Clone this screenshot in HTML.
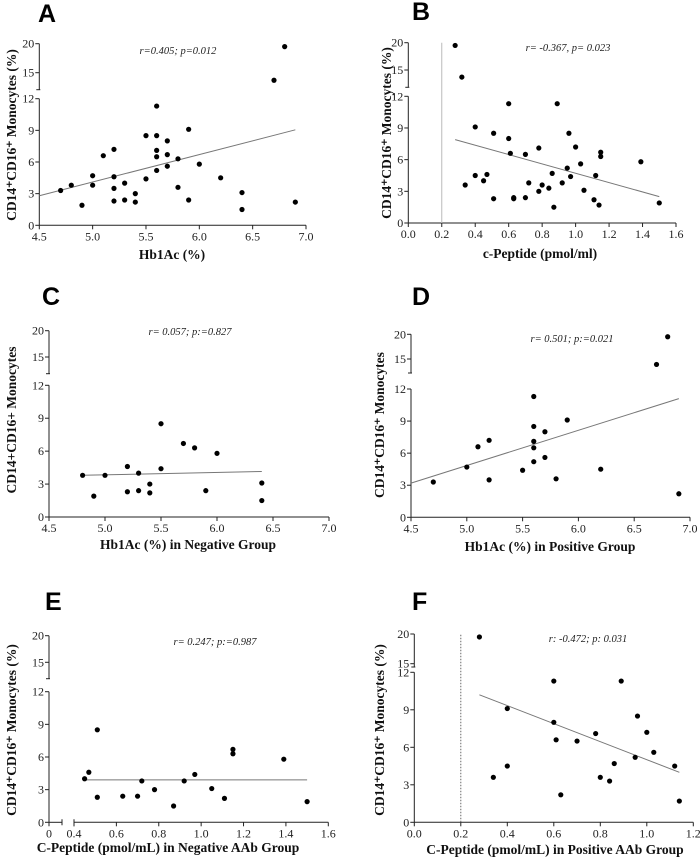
<!DOCTYPE html>
<html><head><meta charset="utf-8">
<style>
html,body{margin:0;padding:0;background:#fff;}
svg{display:block;}
.tk{font-family:"Liberation Serif",serif;font-size:12px;fill:#222;}
.ax{font-family:"Liberation Serif",serif;font-size:13.5px;font-weight:bold;fill:#111;}
.st{font-family:"Liberation Serif",serif;font-size:10.5px;font-style:italic;fill:#222;}
.lt{font-family:"Liberation Sans",sans-serif;font-size:25px;font-weight:bold;fill:#000;}
</style></head>
<body>
<svg id="fig" width="700" height="857" viewBox="0 0 700 857" xmlns="http://www.w3.org/2000/svg"></svg>
<script>
// ---- data ----
const aX=[4.7,4.8,4.9,5.0,5.0,5.1,5.2,5.2,5.2,5.2,5.3,5.3,5.4,5.4,5.5,5.5,5.6,5.6,5.6,5.6,5.6,5.7,5.7,5.7,5.8,5.8,5.9,5.9,6.0,6.2,6.4,6.4,6.7,6.8,6.9];
const aY=[3.3,3.8,1.9,4.7,3.8,6.6,7.2,4.6,3.5,2.3,4.0,2.4,3.0,2.2,8.5,4.4,11.3,8.5,7.1,6.5,5.2,8.0,6.7,5.6,6.3,3.6,9.1,2.4,5.8,4.5,3.1,1.5,13.7,19.5,2.2];
const aFit=[[4.5,2.8],[6.9,9.05]];
const bX=[0.28,0.32,0.34,0.40,0.40,0.45,0.47,0.51,0.51,0.60,0.60,0.61,0.63,0.63,0.70,0.70,0.72,0.78,0.78,0.80,0.84,0.86,0.87,0.89,0.92,0.95,0.96,0.97,1.00,1.03,1.05,1.11,1.12,1.14,1.15,1.15,1.39,1.50];
const bY=[19.5,13.7,3.6,9.1,4.5,4.0,4.6,8.5,2.3,11.3,8.0,6.6,2.4,2.3,6.5,2.4,3.8,7.1,3.0,3.6,3.3,4.7,1.5,11.3,3.8,5.2,8.5,4.4,7.2,5.6,3.1,2.2,4.5,1.7,6.7,6.3,5.8,1.9];
const bFit=[[0.28,7.9],[1.5,2.5]];
const cX=[4.8,4.9,5.0,5.2,5.2,5.3,5.3,5.4,5.4,5.5,5.5,5.7,5.8,5.9,6.0,6.4,6.4];
const cY=[3.8,1.9,3.8,4.6,2.3,4.0,2.4,3.0,2.2,8.5,4.4,6.7,6.3,2.4,5.8,3.1,1.5];
const cFit=[[4.8,3.8],[6.4,4.15]];
const dX=[4.7,5.0,5.1,5.2,5.2,5.5,5.6,5.6,5.6,5.6,5.6,5.7,5.7,5.8,5.9,6.2,6.7,6.8,6.9];
const dY=[3.3,4.7,6.6,7.2,3.5,4.4,11.3,8.5,7.1,6.5,5.2,8.0,5.6,3.6,9.1,4.5,13.9,19.5,2.2];
const dFit=[[4.5,3.2],[6.9,11.1]];
const eX=[0.45,0.47,0.51,0.51,0.63,0.70,0.72,0.78,0.87,0.92,0.97,1.05,1.11,1.15,1.15,1.39,1.50];
const eY=[4.0,4.6,8.5,2.3,2.4,2.4,3.8,3.0,1.5,3.8,4.4,3.1,2.2,6.7,6.3,5.8,1.9];
const eFit=[[0.45,3.9],[1.5,3.9]];
const fX=[0.28,0.34,0.40,0.40,0.60,0.60,0.61,0.63,0.70,0.78,0.80,0.84,0.86,0.89,0.95,0.96,1.00,1.03,1.12,1.14];
const fY=[19.5,3.6,9.1,4.5,11.3,8.0,6.6,2.2,6.5,7.1,3.6,3.3,4.7,11.3,5.2,8.5,7.2,5.6,4.5,1.7];
const fFit=[[0.28,10.2],[1.14,4.0]];
const hbTicks=[4.5,5.0,5.5,6.0,6.5,7.0];
const cpTicks=[0.0,0.2,0.4,0.6,0.8,1.0,1.2,1.4,1.6];
const cpTicks12=[0.0,0.2,0.4,0.6,0.8,1.0,1.2];
const eTicks=[0.4,0.6,0.8,1.0,1.2,1.4,1.6];
const yLow=[0,3,6,9,12];
const yHigh=[15,20];

const NS="http://www.w3.org/2000/svg";
const svg=document.getElementById('fig');
function el(tag,attrs,parent,text){const e=document.createElementNS(NS,tag);for(const k in attrs)e.setAttribute(k,attrs[k]);if(text!==undefined)e.textContent=text;(parent||svg).appendChild(e);return e;}

const panels=[
 {id:'a',L:'A',lx:38,ly:22,X:aX,Y:aY,fit:aFit,xd:[4.5,7.0],xp:[39.3,306],xt:hbTicks,dec:1,y0:225.3,y12:98.7,yb:89.7,y15:72.7,y20:43.7,
  stat:'r=0.405; p=0.012',sx:178,sy:54,xl:'Hb1Ac (%)',xlx:172,xly:259,yl:'CD14\u207ACD16\u207A Monocytes (%)',ylx:13,yly:135},
 {id:'b',L:'B',lx:412,ly:20,X:bX,Y:bY,fit:bFit,xd:[0,1.6],xp:[408.3,676],xt:cpTicks,dec:1,y0:223,y12:96.3,yb:87.3,y15:70,y20:42.7,vline:0.2,
  stat:'r= -0.367, p= 0.023',sx:568,sy:51,xl:'c-Peptide (pmol/ml)',xlx:540,xly:258,yl:'CD14\u207ACD16\u207A Monocytes (%)',ylx:388,yly:133},
 {id:'c',L:'C',lx:42,ly:305,X:cX,Y:cY,fit:cFit,xd:[4.5,7.0],xp:[49,329],xt:hbTicks,dec:1,y0:517,y12:385.3,yb:373.7,y15:357,y20:330.7,
  stat:'r= 0.057; p:=0.827',sx:190,sy:335,xl:'Hb1Ac (%) in Negative Group',xlx:188,xly:549,yl:'CD14+CD16+ Monocytes',ylx:13,yly:420},
 {id:'d',L:'D',lx:412,ly:305,X:dX,Y:dY,fit:dFit,xd:[4.5,7.0],xp:[411,690],xt:hbTicks,dec:1,y0:517.3,y12:389,yb:373,y15:359,y20:334.3,
  stat:'r= 0.501; p:=0.021',sx:572,sy:342,xl:'Hb1Ac (%)  in Positive Group',xlx:550,xly:551,yl:'CD14\u207ACD16\u207A Monocytes',ylx:381,yly:425},
 {id:'e',L:'E',lx:45,ly:610,X:eX,Y:eY,fit:eFit,xd:[0.4,1.6],xp:[74,328.3],xt:eTicks,dec:1,y0:822.3,y12:691.7,yb:678.7,y15:662.3,y20:635.7,ebreak:true,
  stat:'r= 0.247; p:=0.987',sx:215,sy:645,xl:'C-Peptide (pmol/mL) in Negative AAb Group',xlx:168,xly:852,yl:'CD14\u207ACD16\u207A Monocytes (%)',ylx:13,yly:730},
 {id:'f',L:'F',lx:412,ly:610,X:fX,Y:fY,fit:fFit,xd:[0,1.2],xp:[414.3,693.3],xt:cpTicks12,dec:1,y0:822.3,y12:672.3,yb:667,y15:663.7,y20:634,vline:0.2,dotted:true,
  stat:'r: -0.472; p: 0.031',sx:588,sy:642,xl:'C-Peptide (pmol/mL) in Positive AAb Group',xlx:555,xly:854,yl:'CD14\u207ACD16\u207A Monocytes (%)',ylx:381,yly:730}
];

panels.forEach(p=>{
  const g=el('g',{},svg);
  
  
  const xs=v=>p.xp[0]+(v-p.xd[0])*(p.xp[1]-p.xp[0])/(p.xd[1]-p.xd[0]);
  const ys=v=>v<=12?p.y0-v*(p.y0-p.y12)/12:p.y15-(v-15)*(p.y15-p.y20)/5;
  const ax=p.xp[0], axL=p.ebreak?49:ax;
  const lab=el('text',{x:p.lx,y:p.ly,'class':'lt'},g,p.L);
  
  
  const yax=el('g',{stroke:'#222','stroke-width':1},g);
  
  
  el('line',{x1:axL,y1:p.y0,x2:axL,y2:p.y12},yax);
  el('line',{x1:axL,y1:p.yb,x2:axL,y2:p.y20},yax);
  el('line',{x1:axL-3,y1:p.yb,x2:axL+1,y2:p.yb},yax);
  yLow.concat(yHigh).forEach(v=>{el('line',{x1:axL-4,y1:ys(v),x2:axL,y2:ys(v)},yax);
    const t=el('text',{x:axL-5,y:ys(v)+4,'text-anchor':'end','class':'tk',stroke:'none'},g,String(v));
    
    });
  const xax=el('g',{stroke:'#222','stroke-width':1},g);
  
  
  const xR=xs(p.xt[p.xt.length-1]);
  if(p.ebreak){
    el('line',{x1:axL,y1:p.y0,x2:62,y2:p.y0},xax);
    el('line',{x1:62,y1:p.y0-3,x2:62,y2:p.y0+3},xax);
    el('line',{x1:axL,y1:p.y0,x2:axL,y2:p.y0+4},xax);
    el('line',{x1:ax,y1:p.y0-3,x2:ax,y2:p.y0+4},xax);
    el('line',{x1:ax,y1:p.y0,x2:xR,y2:p.y0},xax);
    const t0=el('text',{x:axL,y:p.y0+15,'text-anchor':'middle','class':'tk',stroke:'none'},g,'0');
    
    
  } else {
    el('line',{x1:ax,y1:p.y0,x2:xR,y2:p.y0},xax);
  }
  p.xt.forEach(v=>{el('line',{x1:xs(v),y1:p.y0,x2:xs(v),y2:p.y0+4},xax);
    const t=el('text',{x:xs(v),y:p.y0+15,'text-anchor':'middle','class':'tk',stroke:'none'},g,v.toFixed(p.dec));
    
    });
  if(p.vline!==undefined){
    const vl=el('line',{x1:xs(p.vline),y1:p.y0,x2:xs(p.vline),y2:p.y20,stroke:p.dotted?'#666':'#bbb','stroke-width':1,'stroke-dasharray':p.dotted?'1.5,1.5':'none'},g);
    
    
  }
  const fl=el('line',{x1:xs(p.fit[0][0]),y1:ys(p.fit[0][1]),x2:xs(p.fit[1][0]),y2:ys(p.fit[1][1]),stroke:'#777','stroke-width':1},g);
  
  
  p.X.forEach((x,i)=>{
    const c=el('circle',{cx:xs(x),cy:ys(p.Y[i]),r:2.6,fill:'#000'},g);
    
    
  });
  const st=el('text',{x:p.sx,y:p.sy,'text-anchor':'middle','class':'st'},g,p.stat);
  
  
  const xl=el('text',{x:p.xlx,y:p.xly,'text-anchor':'middle','class':'ax'},g,p.xl);
  
  
  const yl=el('text',{x:p.ylx,y:p.yly,'text-anchor':'middle','class':'ax',transform:'rotate(-90 '+p.ylx+' '+p.yly+')','dominant-baseline':'middle'},g,p.yl);
  
  
});
</script>
</body></html>
